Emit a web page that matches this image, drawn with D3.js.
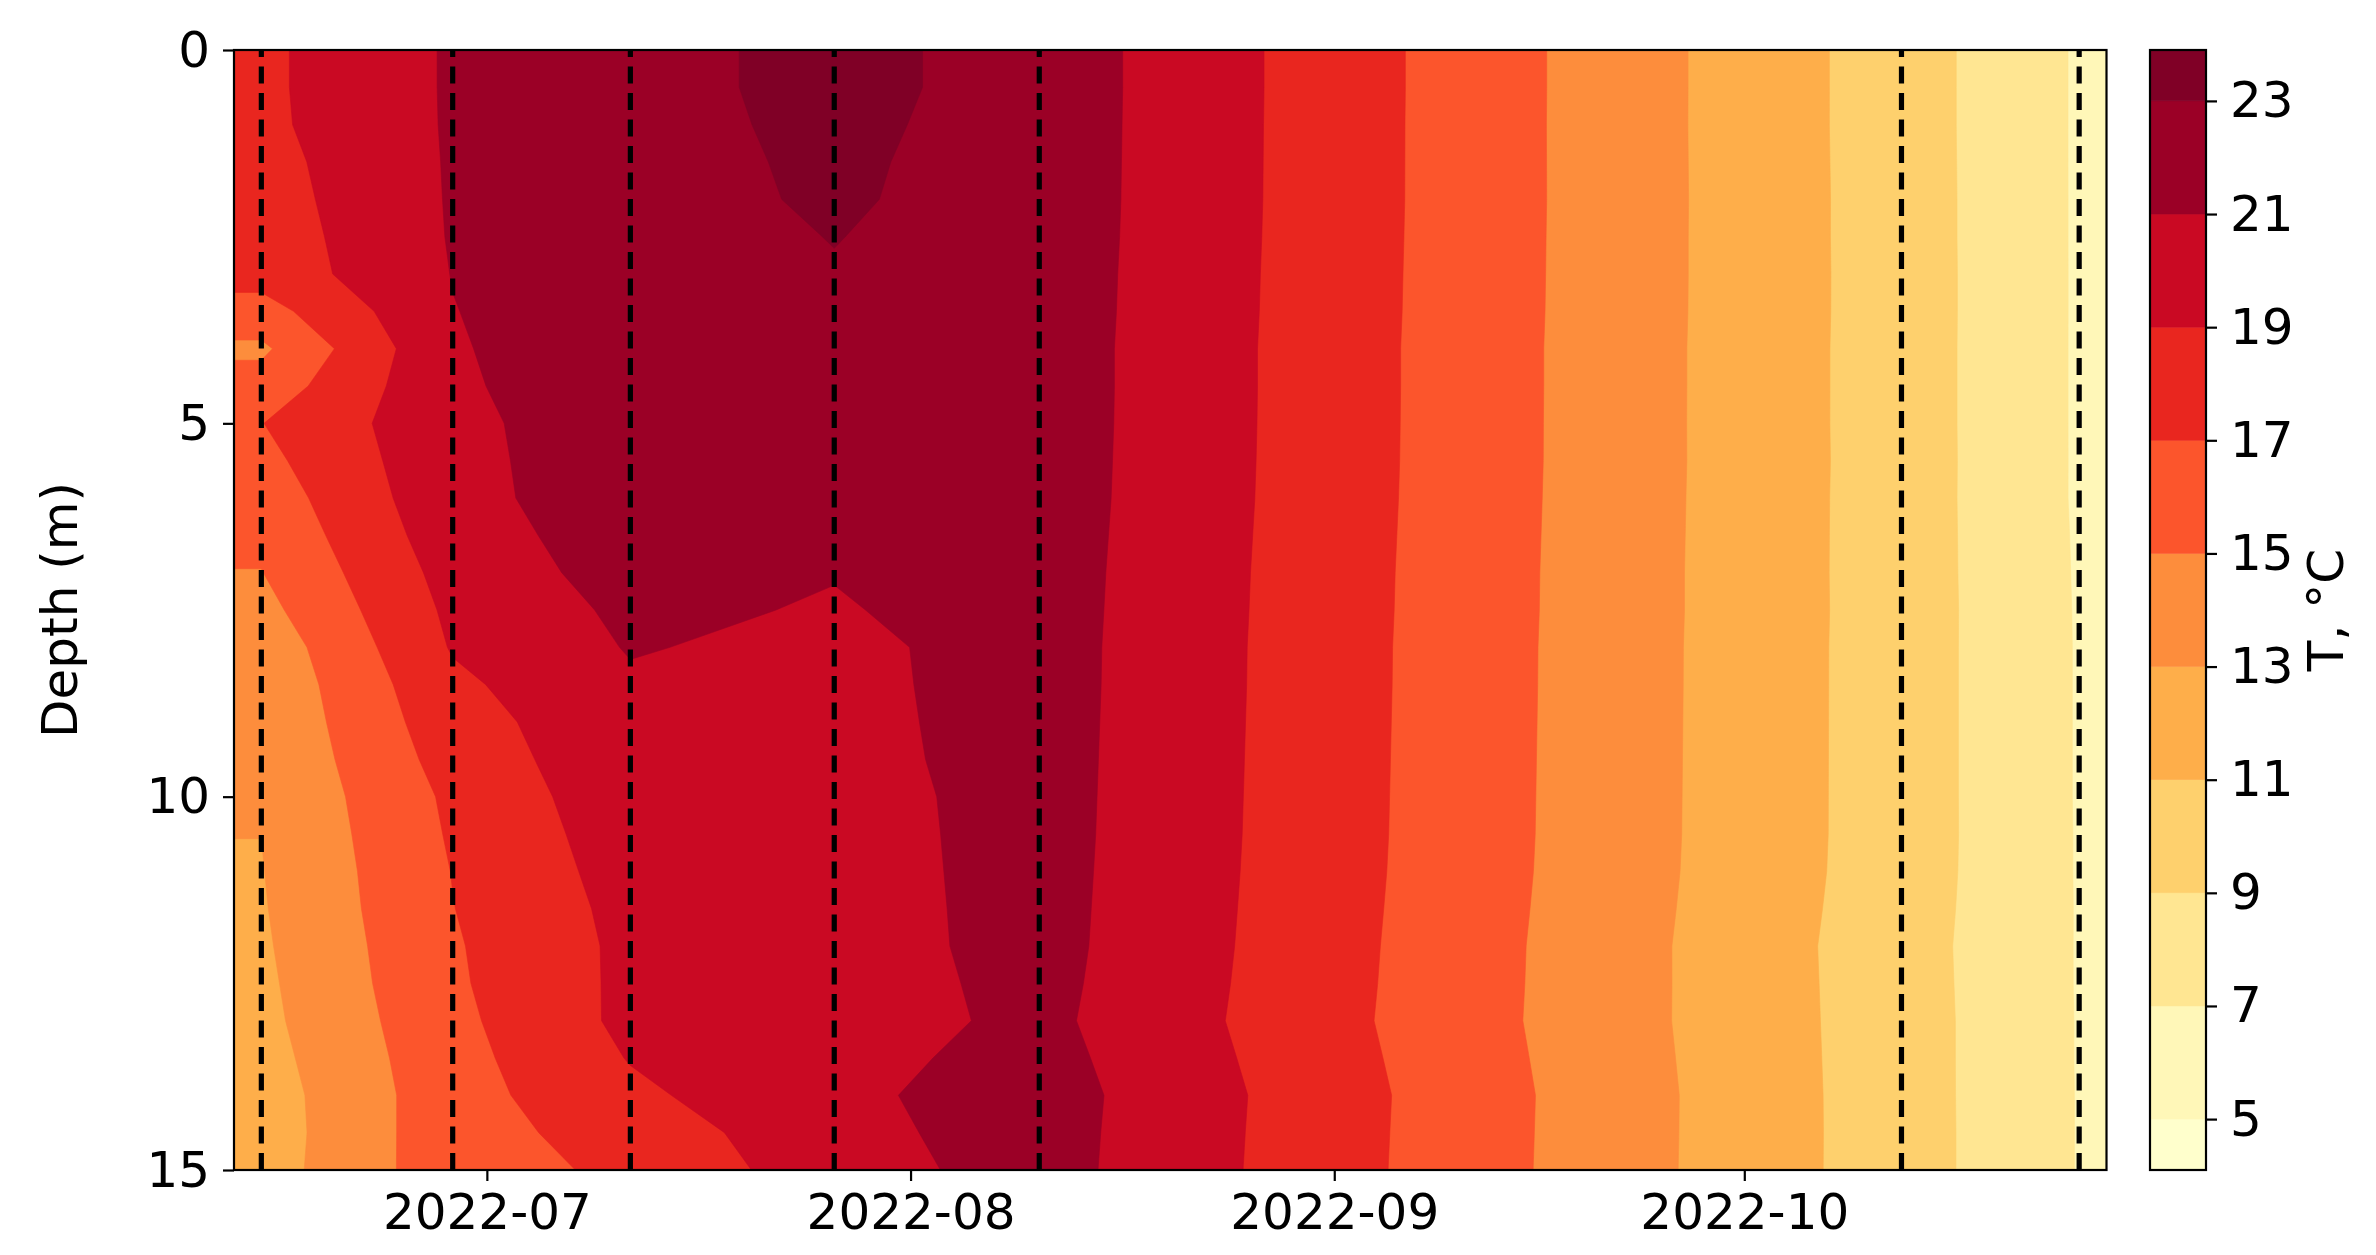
<!DOCTYPE html>
<html>
<head>
<meta charset="utf-8">
<script src="https://cdn.jsdelivr.net/npm/d3@7"></script>
<style>
html, body { margin: 0; padding: 0; background: #ffffff; }
svg { display: block; }
</style>
</head>
<body>
<svg id="chart" width="2376" height="1255"></svg>
<script>
// ---------------- data ----------------
const sampleDates = ["2022-06-14T12:00", "2022-06-28T12:00", "2022-07-11T12:00",
                     "2022-07-26T10:00", "2022-08-10T10:00", "2022-10-12T12:00", "2022-10-25T12:00"];

const depths = [0.5, 1, 1.5, 2, 2.5, 3, 3.5, 4, 4.5, 5, 5.5, 6, 6.5, 7, 7.5,
                8, 8.5, 9, 9.5, 10, 10.5, 11, 11.5, 12, 12.5, 13, 13.5, 14, 14.5, 15];

const temp_0614 = [18.62, 18.57, 18.32, 18.15, 17.95, 17.78, 16.2, 14.64, 15.8, 16.95, 16.45, 15.88, 15.42, 14.95, 14.4,
                   13.7, 13.45, 13.35, 13.25, 13.13, 13.01, 12.93, 12.85, 12.74, 12.61, 12.49, 12.28, 12.05, 11.98, 12.07];
const temp_0628 = [21.21, 21.2, 21.18, 21.16, 21.13, 21.05, 20.95, 20.82, 20.7, 20.49, 20.47, 20.41, 20.12, 19.73, 19.41,
                   19.15, 18.6, 18.2, 17.8, 17.38, 17.22, 17.05, 16.96, 16.81, 16.72, 16.52, 16.34, 16.22, 16.25, 16.22];
const temp_0711 = [22.29, 22.32, 22.33, 22.31, 22.2, 22.15, 22.2, 22.35, 22.3, 22.25, 22.1, 22.07, 21.95, 21.8, 21.4,
                   21.12, 20.75, 20.4, 20.4, 20.26, 20.01, 19.8, 19.57, 19.45, 19.45, 19.48, 19.1, 18.6, 17.8, 17.35];
const temp_0726 = [23.62, 23.46, 23.32, 23.24, 23.05, 22.89, 22.6, 22.3, 22.0, 21.8, 21.6, 21.45, 21.3, 21.08, 20.84,
                   20.5, 20.46, 20.41, 20.35, 20.21, 20.17, 20.15, 20.13, 20.12, 20.03, 19.99, 20.35, 20.59, 20.4, 20.13];
const temp_0810 = [22.18, 22.17, 22.16, 22.15, 22.13, 22.1, 22.08, 22.05, 22.05, 22.04, 22.02, 22.0, 21.96, 21.92, 21.89,
                   21.86, 21.85, 21.83, 21.81, 21.79, 21.77, 21.74, 21.71, 21.68, 21.6, 21.5, 21.7, 21.9, 21.85, 21.81];
const temp_1012 = [9.98, 9.98, 9.99, 10.0, 10.0, 10.01, 10.01, 10.0, 10.0, 10.0, 10.01, 10.0, 10.0, 10.0, 10.01,
                   10.0, 10.0, 10.0, 10.0, 10.0, 10.0, 9.98, 9.92, 9.85, 9.88, 9.91, 9.91, 9.91, 9.92, 9.92];
const temp_1025 = [6.8, 6.8, 6.8, 6.8, 6.8, 6.8, 6.8, 6.8, 6.8, 6.8, 6.8, 6.8, 6.83, 6.85, 6.87,
                   6.88, 6.88, 6.88, 6.88, 6.88, 6.89, 6.89, 6.9, 6.9, 6.9, 6.91, 6.91, 6.92, 6.92, 6.92];

const levels = [5, 7, 9, 11, 13, 15, 17, 19, 21, 23];
const colorbarTicks = [5, 7, 9, 11, 13, 15, 17, 19, 21, 23];
const depthTicks = [0, 5, 10, 15];
const monthTicks = ["2022-07-01", "2022-08-01", "2022-09-01", "2022-10-01"];
const ylorrd = ["#ffffcc", "#ffeda0", "#fed976", "#feb24c", "#fd8d3c", "#fc4e2a", "#e31a1c", "#bd0026", "#800026"];

// ---------------- layout ----------------
const L = 234, R = 2106.5, T = 50, B = 1170;
const CB_L = 2150, CB_R = 2206;
const FONT = "DejaVu Sans, sans-serif";
const FS = 50;

const svg = d3.select("#chart");
const parse = d3.timeParse("%Y-%m-%dT%H:%M");
const parseDay = d3.timeParse("%Y-%m-%d");
const dates = sampleDates.map(parse);
const profiles = [temp_0614, temp_0628, temp_0711, temp_0726, temp_0810, temp_1012, temp_1025];

// grid extends 2 days beyond first/last profile and up to the surface (edge values repeated)
const gridTimes = [d3.timeDay.offset(dates[0], -2), ...dates, d3.timeDay.offset(dates[dates.length - 1], 2)];
const gridDepths = [0, ...depths];
const nx = gridTimes.length, ny = gridDepths.length;
const values = new Array(nx * ny);
for (let j = 0; j < ny; j++) {
  for (let i = 0; i < nx; i++) {
    const p = profiles[Math.min(Math.max(i - 1, 0), profiles.length - 1)];
    values[j * nx + i] = p[Math.max(j - 1, 0)];
  }
}

const x = d3.scaleTime().domain([gridTimes[0], gridTimes[nx - 1]]).range([L, R]);
const y = d3.scaleLinear().domain([0, 15]).range([T, B]);

const cmap = d3.scaleLinear().domain(d3.range(9).map(i => i / 8)).range(ylorrd).clamp(true);
const norm = d3.scaleLinear().domain([levels[0], levels[levels.length - 1]]).range([0, 1]);
function bandColor(lo) {
  if (lo >= levels[levels.length - 1]) return cmap(1);
  if (lo < levels[0]) return cmap(0);
  return cmap(norm(lo + 1));
}

// ---------------- contours ----------------
const gx = d3.scaleLinear().domain(d3.range(nx)).range(gridTimes.map(Number)).clamp(true);
const gy = d3.scaleLinear().domain(d3.range(ny)).range(gridDepths).clamp(true);
const tr = d3.geoTransform({
  point: function (px, py) { this.stream.point(x(gx(px - 0.5)), y(gy(py - 0.5))); }
});
const path = d3.geoPath(tr);
const contours = d3.contours().size([nx, ny]).thresholds(levels)(values);

svg.append("clipPath").attr("id", "plotclip")
  .append("rect").attr("x", L).attr("y", T).attr("width", R - L).attr("height", B - T);

const plot = svg.append("g").attr("clip-path", "url(#plotclip)");
plot.append("rect").attr("x", L).attr("y", T).attr("width", R - L).attr("height", B - T)
  .attr("fill", cmap(0));
plot.selectAll("path.band").data(contours).join("path")
  .attr("class", "band")
  .attr("d", path)
  .attr("fill", d => bandColor(d.value))
  .attr("stroke", d => bandColor(d.value))
  .attr("stroke-width", 0.6);

// sampling dates
plot.selectAll("line.sample").data(dates).join("line")
  .attr("class", "sample")
  .attr("x1", d => x(d)).attr("x2", d => x(d))
  .attr("y1", B).attr("y2", T)
  .attr("stroke", "#000").attr("stroke-width", 5.2)
  .attr("stroke-dasharray", "17 9.5");

// frame
svg.append("rect").attr("x", L).attr("y", T).attr("width", R - L).attr("height", B - T)
  .attr("fill", "none").attr("stroke", "#000").attr("stroke-width", 2.2);

// ---------------- axes ----------------
function styleAxis(g) {
  g.attr("font-size", FS).attr("font-family", FONT);
  g.select(".domain").remove();
  g.selectAll(".tick line").attr("stroke", "#000").attr("stroke-width", 2.2);
  g.selectAll(".tick text").attr("fill", "#000");
}

svg.append("g").attr("transform", `translate(0,${B})`)
  .call(d3.axisBottom(x).tickValues(monthTicks.map(parseDay))
    .tickFormat(d3.timeFormat("%Y-%m")).tickSize(11).tickPadding(12))
  .call(styleAxis);

svg.append("g").attr("transform", `translate(${L},0)`)
  .call(d3.axisLeft(y).tickValues(depthTicks).tickFormat(d3.format("d")).tickSize(11).tickPadding(13))
  .call(styleAxis);

svg.append("text")
  .attr("transform", `translate(77,${(T + B) / 2}) rotate(-90)`)
  .attr("text-anchor", "middle")
  .attr("font-family", FONT).attr("font-size", FS).attr("fill", "#000")
  .text("Depth (m)");

// ---------------- colorbar ----------------
const cbLo = levels[0] - 0.05 * (levels[levels.length - 1] - levels[0]);
const cbHi = levels[levels.length - 1] + 0.05 * (levels[levels.length - 1] - levels[0]);
const cb = d3.scaleLinear().domain([cbLo, cbHi]).range([B, T]);
const cbEdges = [cbLo, ...levels, cbHi];
const cbBands = d3.pairs(cbEdges);

svg.append("g").selectAll("rect").data(cbBands).join("rect")
  .attr("x", CB_L).attr("width", CB_R - CB_L)
  .attr("y", d => cb(d[1])).attr("height", d => cb(d[0]) - cb(d[1]))
  .attr("fill", d => bandColor(d[0]))
  .attr("stroke", d => bandColor(d[0])).attr("stroke-width", 0.5);

svg.append("rect").attr("x", CB_L).attr("y", T).attr("width", CB_R - CB_L).attr("height", B - T)
  .attr("fill", "none").attr("stroke", "#000").attr("stroke-width", 2.2);

svg.append("g").attr("transform", `translate(${CB_R},0)`)
  .call(d3.axisRight(cb).tickValues(colorbarTicks).tickFormat(d3.format("d")).tickSize(11).tickPadding(13))
  .call(styleAxis);

svg.append("text")
  .attr("transform", `translate(2343,${(T + B) / 2}) rotate(-90)`)
  .attr("text-anchor", "middle")
  .attr("font-family", FONT).attr("font-size", FS).attr("fill", "#000")
  .text("T, °C");
</script>
</body>
</html>
